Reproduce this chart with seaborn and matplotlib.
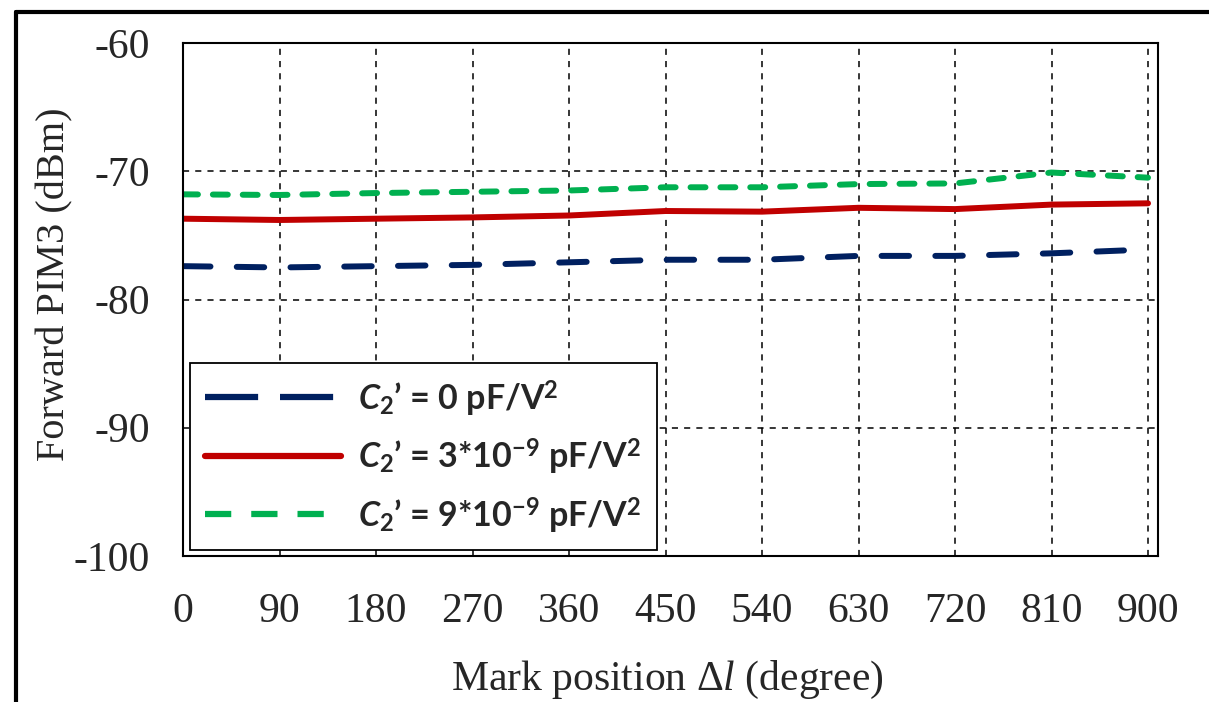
import seaborn as sns
import matplotlib.pyplot as plt
import matplotlib.lines as mlines
import pandas as pd

# data
positions = [0, 90, 180, 270, 360, 450, 540, 630, 720, 810, 900]
pim_c0 = [-77.4, -77.5, -77.4, -77.3, -77.1, -76.9, -76.9, -76.6, -76.6, -76.4, -76.1]
pim_c3 = [-73.7, -73.8, -73.7, -73.6, -73.45, -73.1, -73.15, -72.85, -72.95, -72.6, -72.5]
pim_c9 = [-71.8, -71.85, -71.7, -71.6, -71.5, -71.25, -71.25, -71.0, -70.95, -70.1, -70.5]
labels = [r"$\mathbfit{C}_{\mathbf{2}}$’ = 0 pF/V$^{\mathbf{2}}$",
          r"$\mathbfit{C}_{\mathbf{2}}$’ = 3*10$^{\mathbf{-9}}$ pF/V$^{\mathbf{2}}$",
          r"$\mathbfit{C}_{\mathbf{2}}$’ = 9*10$^{\mathbf{-9}}$ pF/V$^{\mathbf{2}}$"]

df = pd.DataFrame({
    'pos': positions * 3,
    'pim': pim_c0 + pim_c3 + pim_c9,
    'serie': [labels[0]] * 11 + [labels[1]] * 11 + [labels[2]] * 11,
})

sns.set_style('white')
plt.rcParams['font.family'] = ['Liberation Serif', 'DejaVu Serif']
plt.rcParams['axes.unicode_minus'] = False
plt.rcParams['mathtext.fontset'] = 'custom'
plt.rcParams['mathtext.rm'] = 'Lato:bold'
plt.rcParams['mathtext.it'] = 'Liberation Serif:italic'
plt.rcParams['mathtext.bf'] = 'Lato:bold'
plt.rcParams['mathtext.bfit'] = 'Lato:italic:bold'

fig = plt.figure(figsize=(12.09, 7.02), dpi=100)
ax = fig.add_axes([183 / 1209, 1 - 556 / 702, 975 / 1209, 513 / 702])

kolory = {labels[0]: '#002060', labels[1]: '#C00000', labels[2]: '#00B050'}
kreski = {labels[0]: (4.6, 4.4), labels[1]: '', labels[2]: (2.5, 2.5)}
sns.lineplot(data=df, x='pos', y='pim', hue='serie', style='serie',
             palette=kolory, dashes=kreski, linewidth=4.3, ax=ax,
             dash_capstyle='round', solid_capstyle='round', legend=True)

ax.set_xlim(0, 909.3)
ax.set_ylim(-100, -60)
ax.set_xticks(positions)
ax.set_yticks([-100, -90, -80, -70, -60])
ax.grid(True, color='black', linestyle=(0, (4, 4)), linewidth=1.1)
for s in ax.spines.values():
    s.set_color('black')
    s.set_linewidth(1.5)
ax.tick_params(axis='x', length=0, pad=26, labelsize=30)
ax.tick_params(axis='y', length=0, pad=24, labelsize=30)
ax.set_xlabel('')
ax.set_ylabel('')

fig.text(667 / 1209, 1 - 680 / 702, r'Mark position Δ$l$ (degree)', fontsize=30,
         ha='center', va='center')
fig.text(55 / 1209, 1 - 284 / 702, 'Forward PIM3 (dBm)', fontsize=29,
         ha='center', va='center', rotation=90)

leg = ax.legend(loc='lower left', bbox_to_anchor=(7 / 975, 6 / 513), borderaxespad=0,
                frameon=True, fancybox=False, edgecolor='black', framealpha=1,
                handlelength=4.0, labelspacing=0.55, borderpad=0.45,
                handletextpad=0.5, prop={'family': 'Lato', 'weight': 'bold', 'size': 24.5})
leg.get_frame().set_linewidth(1.3)
leg_kreski = [(0, (8.5, 3.5)), '-', (0, (4.2, 3.2))]
for h, ls in zip(leg.get_lines(), leg_kreski):
    h.set_linewidth(4.5)
    h.set_linestyle(ls)
    h.set_dash_capstyle('butt')

# ramka wokol calej figury
fig.add_artist(mlines.Line2D([16 / 1209, 1], [1 - 12 / 702, 1 - 12 / 702], color='black', lw=3))
fig.add_artist(mlines.Line2D([16 / 1209, 16 / 1209], [0, 1 - 12 / 702], color='black', lw=3))

fig.savefig('out.png', dpi=100)
